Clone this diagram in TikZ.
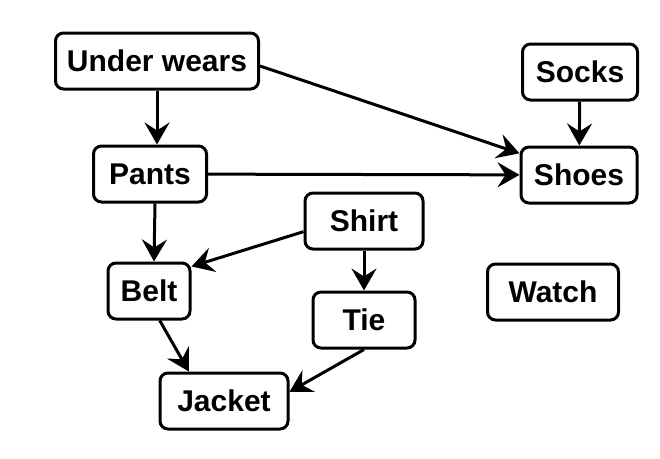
\documentclass[tikz,border=0pt]{standalone}
\usepackage{fontspec}
\setmainfont{Liberation Sans}
\usetikzlibrary{arrows.meta}

\begin{document}
\begin{tikzpicture}[x=1pt,y=-1pt]
      \tikzstyle item=[draw, line width=3pt, rounded corners=8pt,
      minimum height=56pt, inner sep=0pt,
      font=\fontsize{30}{36}\selectfont\bfseries]
      \tikzstyle dep=[line width=3pt,
      -{Stealth[length=22pt,width=25pt,inset=8pt]}]
      \useasboundingbox (0,0) rectangle (660,458);
      \node [item, minimum width=203pt] (under) at (157,61) {Under wears};
      \node [item, minimum width=113pt] (pants) at (150,174) {Pants};
      \node [item, minimum width=115pt] (socks) at (580,72) {Socks};
      \node [item, minimum width=116pt] (shoes) at (579,175) {Shoes};
      \node [item, minimum width=131pt] (watch) at (553,292) {Watch};
      \node [item, minimum width=118pt] (shirt) at (364,221) {Shirt};
      \node [item, minimum width=82pt] (belt) at (149,291) {Belt};
      \node [item, minimum width=102pt] (tie) at (364,320) {Tie};
      \node [item, minimum width=128pt] (jacket) at (224,401) {Jacket};
      \draw [dep] (under.south) -- (under.south |- pants.north);
      \draw [dep] ([yshift=-5pt]under.east) -- (shoes.160);
      \draw [dep] (pants) -- (shoes);
      \draw [dep] (socks) -- (shoes);
      \draw [dep] ([xshift=5pt]pants.south) -- ([xshift=5pt]belt.north);
      \draw [dep] (shirt.190) -- (belt.30);
      \draw [dep] (shirt) -- (tie);
      \draw [dep] (belt.-70) -- (jacket.140);
      \draw [dep] (tie.south) -- (jacket.8);
    \end{tikzpicture}
\end{document}
